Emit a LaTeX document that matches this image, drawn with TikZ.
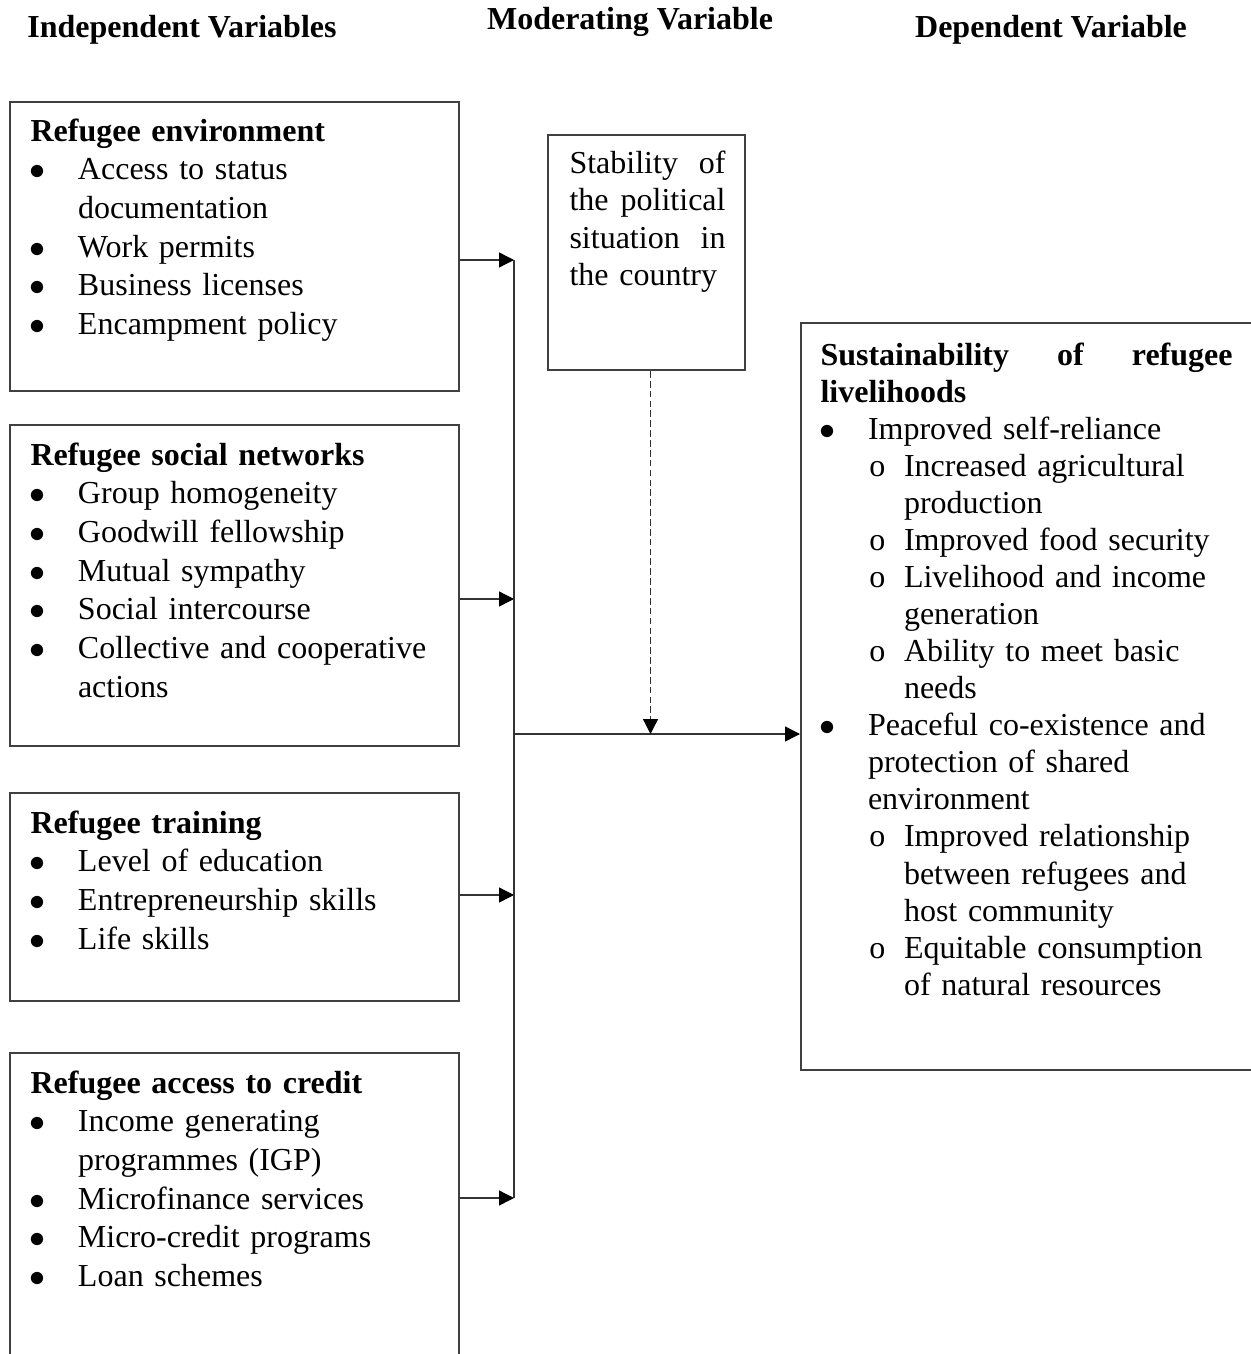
\documentclass[tikz,border=0pt]{standalone}
\usepackage{fontspec}
\setmainfont{Liberation Serif}
\usetikzlibrary{fit,arrows.meta}

\tikzstyle{box} = [draw=black!75, line width=0.75pt, inner sep=0pt]
\tikzstyle{txt} = [anchor=north west, inner sep=0pt, align=left,
    text width=153.75pt, font=\fontsize{12}{14.5}\selectfont]
\tikzstyle{head} = [inner sep=0pt, font=\fontsize{12}{14.5}\selectfont\bfseries]
\tikzstyle{link} = [draw=black!80, line width=0.5pt,
    -{Triangle[length=5.6pt,width=5.6pt,color=black]}]

\newenvironment{dotlist}{\begin{list}{$\bullet$}{%
  \setlength{\leftmargin}{17.8pt}\setlength{\labelsep}{12.3pt}%
  \setlength{\labelwidth}{6.2pt}\setlength{\topsep}{0pt}%
  \setlength{\partopsep}{0pt}\setlength{\itemsep}{0pt}%
  \setlength{\parsep}{0pt}}}{\end{list}}
\newenvironment{olist}{\begin{list}{o}{%
  \setlength{\leftmargin}{13.5pt}\setlength{\labelsep}{7pt}%
  \setlength{\labelwidth}{6.5pt}\setlength{\topsep}{0pt}%
  \setlength{\partopsep}{0pt}\setlength{\itemsep}{0pt}%
  \setlength{\parsep}{0pt}}}{\end{list}}

\begin{document}
\begin{tikzpicture}[x=0.375pt, y=-0.375pt]
\useasboundingbox (0,0) rectangle (1250,1354);

\node[head] (ivh) at (182,30) {Independent Variables};
\node[head] (mvh) at (630,22) {Moderating Variable};
\node[head] (dvh) at (1051,30) {Dependent Variable};

\node[box, fit={(10,102) (459,391)}] (env) {};
\node[txt] (envt) at (30,118) {\textbf{Refugee environment}
\begin{dotlist}
\item Access to status documentation
\item Work permits
\item Business licenses
\item Encampment policy
\end{dotlist}};

\node[box, fit={(10,425) (459,746)}] (soc) {};
\node[txt] (soct) at (30,442) {\textbf{Refugee social networks}
\begin{dotlist}
\item Group homogeneity
\item Goodwill fellowship
\item Mutual sympathy
\item Social intercourse
\item Collective and cooperative actions
\end{dotlist}};

\node[box, fit={(10,793) (459,1001)}] (trn) {};
\node[txt] (trnt) at (30,810) {\textbf{Refugee training}
\begin{dotlist}
\item Level of education
\item Entrepreneurship skills
\item Life skills
\end{dotlist}};

\node[box, fit={(10,1053) (459,1370)}] (crd) {};
\node[txt] (crdt) at (30,1070) {\textbf{Refugee access to credit}
\begin{dotlist}
\item Income generating programmes (IGP)
\item Microfinance services
\item Micro-credit programs
\item Loan schemes
\end{dotlist}};

\node[box, fit={(548,135) (745,370)}] (stab) {};
\node[txt, text width=58.5pt, font=\fontsize{12}{14.1}\selectfont] (stabt) at (569,150)
  {Stability\hfill of\\the\hfill political\\situation\hfill in\\the country};

\node[box, fit={(801,323) (1265,1070)}] (sus) {};
\node[txt, text width=154.5pt, font=\fontsize{12}{13.9}\selectfont] (sust) at (820,342)
  {\textbf{Sustainability\hfill of\hfill refugee}\\\textbf{livelihoods}
\begin{dotlist}
\item Improved self-reliance
\begin{olist}
\item Increased agricultural production
\item Improved food security
\item Livelihood and income generation
\item Ability to meet basic needs
\end{olist}
\item Peaceful co-existence and protection of shared environment
\begin{olist}
\item Improved relationship between refugees and host community
\item Equitable consumption of natural resources
\end{olist}
\end{dotlist}};

\coordinate (j1) at (514,260);
\coordinate (j2) at (514,599);
\coordinate (j3) at (514,895);
\coordinate (j4) at (514,1198);
\coordinate (jm) at (514,734);

\draw[link] (env.east |- j1) -- (j1);
\draw[link] (soc.east |- j2) -- (j2);
\draw[link] (trn.east |- j3) -- (j3);
\draw[link] (crd.east |- j4) -- (j4);
\draw[draw=black!80, line width=0.5pt] (j1) -- (j4);
\draw[link] (jm) -- (sus.west |- jm);
\draw[link, dash pattern=on 2.5pt off 1.2pt] ([xshift=1.5pt]stab.south) -- ([xshift=1.5pt]stab.south |- jm);

\end{tikzpicture}
\end{document}
